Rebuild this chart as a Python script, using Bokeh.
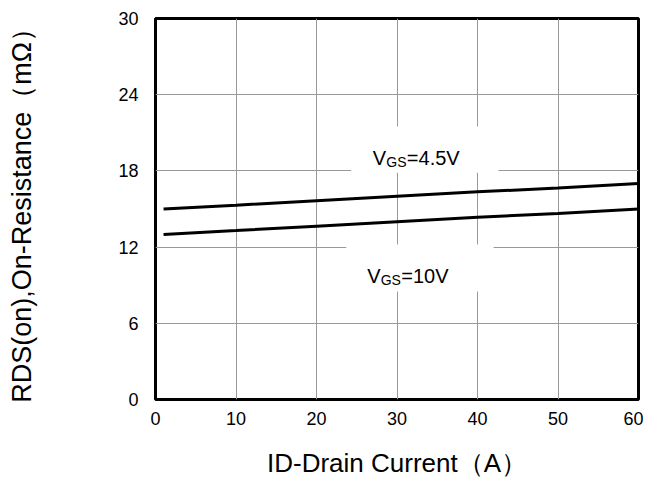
from bokeh.plotting import figure
from bokeh.models import Range1d, FixedTicker, Label, BoxAnnotation
from bokeh.embed import file_html
from bokeh.resources import INLINE

# ---- data ----
drain_current = [1, 10, 20, 30, 40, 50, 60]
rds_vgs_4v5 = [15.0, 15.3, 15.65, 16.0, 16.35, 16.65, 17.0]
rds_vgs_10v = [13.0, 13.3, 13.65, 14.0, 14.35, 14.65, 15.0]
x_ticks = [0, 10, 20, 30, 40, 50, 60]
y_ticks = [0, 6, 12, 18, 24, 30]

FONT = "Liberation Sans"

p = figure(width=643, height=484, output_backend="svg", toolbar_location=None,
           x_range=Range1d(0, 60), y_range=Range1d(0, 30),
           min_border_left=155, min_border_right=5, min_border_top=18, min_border_bottom=85)
p.background_fill_color = "white"
p.border_fill_color = "white"
p.outline_line_color = "black"
p.outline_line_width = 3

p.xaxis.ticker = FixedTicker(ticks=x_ticks)
p.yaxis.ticker = FixedTicker(ticks=y_ticks)
for ax in (p.xaxis, p.yaxis):
    ax.axis_line_color = None
    ax.major_tick_in = 0
    ax.major_tick_out = 0
    ax.minor_tick_in = 0
    ax.minor_tick_out = 0
    ax.major_label_text_font = FONT
    ax.major_label_text_font_size = "18px"
    ax.major_label_text_color = "black"
    ax.axis_label_text_font = FONT
    ax.axis_label_text_font_style = "normal"
    ax.axis_label_text_color = "black"

p.xaxis.axis_label = "ID-Drain Current（A）"
p.xaxis.axis_label_text_font_size = "26px"
p.xaxis.major_label_standoff = 12
p.xaxis.axis_label_standoff = 20

p.yaxis.axis_label = "RDS(on),On-Resistance（mΩ）"
p.yaxis.axis_label_text_font_size = "27px"
p.yaxis.major_label_standoff = 17
p.yaxis.axis_label_standoff = 78

p.xgrid.grid_line_color = "#999999"
p.ygrid.grid_line_color = "#999999"
p.xgrid.grid_line_width = 1
p.ygrid.grid_line_width = 1

# white boxes behind annotations (cover grid lines)
p.add_layout(BoxAnnotation(left=24.3, right=42.6, bottom=17.85, top=21.5,
                           fill_color="white", fill_alpha=1.0, line_color=None, level="underlay"))
p.add_layout(BoxAnnotation(left=23.7, right=42.0, bottom=8.5, top=12.2,
                           fill_color="white", fill_alpha=1.0, line_color=None, level="underlay"))

p.line(drain_current, rds_vgs_4v5, line_color="black", line_width=3)
p.line(drain_current, rds_vgs_10v, line_color="black", line_width=3)

def vgs_label(x, y, rest):
    p.add_layout(Label(x=x, y=y, text="V", text_font=FONT, text_font_size="20px",
                       text_color="black", text_baseline="alphabetic"))
    p.add_layout(Label(x=x, y=y, x_offset=13.5, y_offset=-4, text="GS", text_font=FONT,
                       text_font_size="14px", text_color="black", text_baseline="alphabetic"))
    p.add_layout(Label(x=x, y=y, x_offset=34, text=rest, text_font=FONT,
                       text_font_size="20px", text_color="black", text_baseline="alphabetic"))

vgs_label(27.0, 19.05, "=4.5V")
vgs_label(26.3, 9.7, "=10V")

open("out.html", "w").write(file_html(p, INLINE))
